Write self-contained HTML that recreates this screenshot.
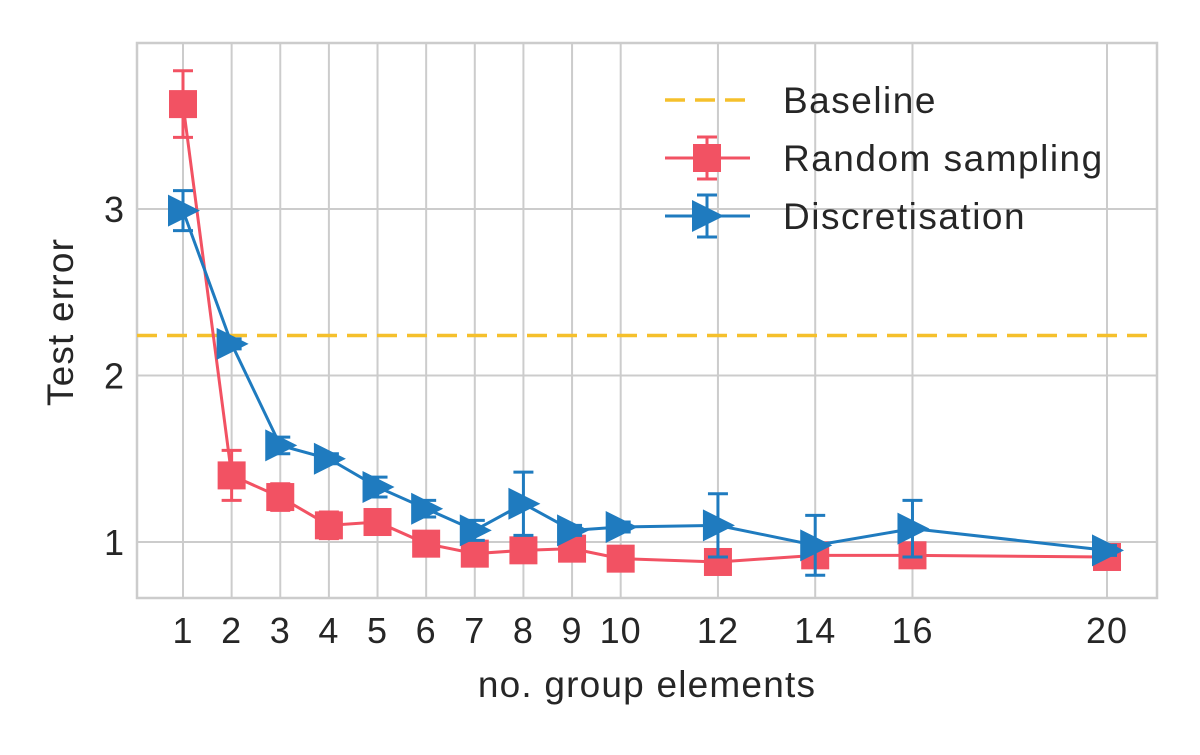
<!DOCTYPE html>
<html><head><meta charset="utf-8">
<style>
html,body{margin:0;padding:0;background:#fff;}
svg text{font-family:"Liberation Sans",sans-serif;fill:#262626;}
</style></head>
<body>
<svg id="chart" width="1200" height="750" viewBox="0 0 1200 750">
<rect x="137" y="43" width="1020" height="555" fill="#fff" stroke="#cccccc" stroke-width="2.5"/>
<g id="grid"></g>
<g id="axes"></g>
<g id="series"></g>
<text x="647" y="697" font-size="37" letter-spacing="1.2" text-anchor="middle">no. group elements</text>
<text transform="translate(73,322) rotate(-90)" font-size="37" letter-spacing="1.2" text-anchor="middle">Test error</text>
<g>
  <g>
    <line x1="665" y1="100" x2="750" y2="100" stroke="#f5c02c" stroke-width="3.5" stroke-dasharray="20,10"/>
    <text x="783" y="113" font-size="37" letter-spacing="1.5">Baseline</text>
  </g>
  <g>
    <line x1="665" y1="158" x2="750" y2="158" stroke="#f25263" stroke-width="3"/>
    <line x1="707" y1="137" x2="707" y2="179" stroke="#f25263" stroke-width="3"/>
    <line x1="697" y1="137" x2="717" y2="137" stroke="#f25263" stroke-width="3"/>
    <line x1="697" y1="179" x2="717" y2="179" stroke="#f25263" stroke-width="3"/>
    <rect x="693" y="144" width="28" height="28" fill="#f25263"/>
    <text x="783" y="171" font-size="37" letter-spacing="1.5">Random sampling</text>
  </g>
  <g>
    <line x1="665" y1="216" x2="750" y2="216" stroke="#1f7bbf" stroke-width="3"/>
    <line x1="707" y1="195" x2="707" y2="237" stroke="#1f7bbf" stroke-width="3"/>
    <line x1="697" y1="195" x2="717" y2="195" stroke="#1f7bbf" stroke-width="3"/>
    <line x1="697" y1="237" x2="717" y2="237" stroke="#1f7bbf" stroke-width="3"/>
    <polygon points="692,200 724,216 692,232" fill="#1f7bbf"/>
    <text x="783" y="229" font-size="37" letter-spacing="1.5">Discretisation</text>
  </g>
</g>
</svg>
<script>
const xCats = [1,2,3,4,5,6,7,8,9,10,12,14,16,20];
const yTicks = [1,2,3];
const randomMean = [3.63,1.40,1.27,1.10,1.12,0.99,0.93,0.95,0.96,0.90,0.88,0.92,0.92,0.91];
const randomErr  = [0.20,0.15,0.08,0.08,0.05,0.04,0.04,0.05,0.04,0.03,0.03,0.03,0.03,0.03];
const discMean = [2.99,2.19,1.58,1.50,1.33,1.20,1.07,1.23,1.07,1.09,1.10,0.98,1.08,0.95];
const discErr  = [0.12,0.03,0.05,0.03,0.06,0.05,0.06,0.19,0.03,0.03,0.19,0.18,0.17,0.03];
const baseline = 2.24;

const NS='http://www.w3.org/2000/svg';
const xS = v => 183 + (v-1)*(1107-183)/19;
const yS = v => 542 - (v-1)*166.5;
function mk(tag, attrs, parent){const e=document.createElementNS(NS,tag);for(const k in attrs)e.setAttribute(k,attrs[k]);parent.appendChild(e);return e;}
const grid=document.getElementById('grid'), axes=document.getElementById('axes'), ser=document.getElementById('series');
xCats.forEach(c=>{
  const l=mk('line',{x1:xS(c),x2:xS(c),y1:43,y2:598,stroke:'#cccccc','stroke-width':2},grid);
  
  
  const t=mk('text',{x:xS(c),y:643,'font-size':36,'letter-spacing':1,'text-anchor':'middle'},axes);
  t.textContent=c;
  
  
});
yTicks.forEach(v=>{
  const l=mk('line',{x1:137,x2:1157,y1:yS(v),y2:yS(v),stroke:'#cccccc','stroke-width':2},grid);
  
  
  const t=mk('text',{x:124,y:yS(v)+13,'font-size':36,'text-anchor':'end'},axes);
  t.textContent=v;
  
  
});
const bl=mk('line',{x1:137,x2:1157,y1:yS(baseline),y2:yS(baseline),stroke:'#f5c02c','stroke-width':3.5,'stroke-dasharray':'20,10'},ser);



function drawSeries(mean, err, color, name, marker){
  const g=mk('g',{},ser);
  
  
  const pts=xCats.map((c,i)=>xS(c)+','+yS(mean[i])).join(' ');
  const pl=mk('polyline',{points:pts,fill:'none',stroke:color,'stroke-width':3},g);
  
  
  xCats.forEach((c,i)=>{
    const x=xS(c), y1=yS(mean[i]+err[i]), y2=yS(mean[i]-err[i]);
    const e=mk('path',{d:`M${x},${y1}V${y2}M${x-10},${y1}H${x+10}M${x-10},${y2}H${x+10}`,stroke:color,'stroke-width':3,fill:'none'},g);
    
    
    const y=yS(mean[i]);
    let m;
    if(marker==='square') m=mk('rect',{x:x-14,y:y-14,width:28,height:28,fill:color},g);
    else m=mk('polygon',{points:`${x-15},${y-16} ${x+17},${y} ${x-15},${y+16}`,fill:color},g);
    
    
  });
}
drawSeries(randomMean, randomErr, '#f25263', 'random-sampling', 'square');
drawSeries(discMean, discErr, '#1f7bbf', 'discretisation', 'triangle');
</script>
</body></html>
